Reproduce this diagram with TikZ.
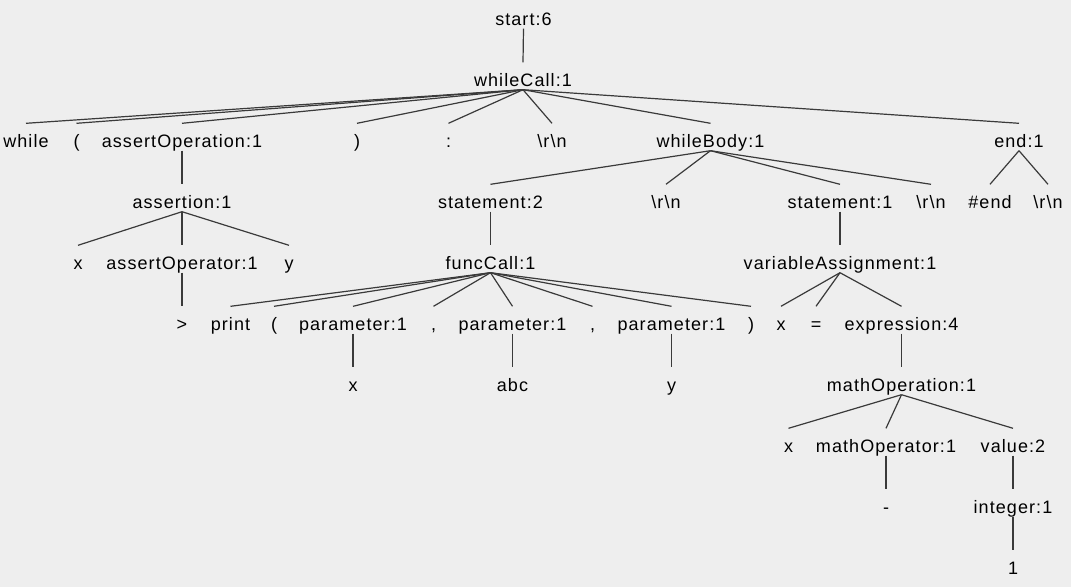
\documentclass[tikz,border=0pt]{standalone}
\usepackage{fontspec}
\setmainfont{Liberation Sans}[LetterSpace=6]
\definecolor{bg}{HTML}{EEEEEE}
\definecolor{ln}{HTML}{3A3A3A}
\newcommand{\rn}{\textbackslash r\textbackslash n}
\begin{document}
\begin{tikzpicture}[x=1pt,y=-1pt,
  tn/.style={anchor=base, inner sep=0pt, text height=23.5pt, text depth=3.5pt,
    font=\fontsize{18}{20}\selectfont, text=black},
  edge/.style={draw=ln, line width=1.2pt}]
\useasboundingbox[fill=bg] (0,0) rectangle (1071,587);
% rows: baseline = 25 + 61k
% row 0
\node[tn] (start) at (523.5,25) {start:6};
% row 1
\node[tn] (wc) at (523,86) {whileCall:1};
% row 2
\node[tn] (wwhile) at (26,147) {while};
\node[tn] (wlp) at (76.5,147) {(};
\node[tn] (aop) at (182,147) {assertOperation:1};
\node[tn] (wrp) at (357,147) {)};
\node[tn] (wcol) at (448.5,147) {:};
\node[tn] (wrn) at (552,147) {\rn};
\node[tn] (wb) at (710.5,147) {whileBody:1};
\node[tn] (endn) at (1019,147) {end:1};
% row 3
\node[tn] (asn) at (182,208) {assertion:1};
\node[tn] (st2) at (490.5,208) {statement:2};
\node[tn] (wbrna) at (666,208) {\rn};
\node[tn] (st1) at (840,208) {statement:1};
\node[tn] (wbrnb) at (931,208) {\rn};
\node[tn] (hend) at (990,208) {\#end};
\node[tn] (endrn) at (1048,208) {\rn};
% row 4
\node[tn] (ax) at (78,269) {x};
\node[tn] (aopr) at (182,269) {assertOperator:1};
\node[tn] (ay) at (289,269) {y};
\node[tn] (fc) at (490.5,269) {funcCall:1};
\node[tn] (va) at (840,269) {variableAssignment:1};
% row 5
\node[tn] (gt) at (182,330) {>};
\node[tn] (fprint) at (230.5,330) {print};
\node[tn] (flp) at (274,330) {(};
\node[tn] (pa) at (353,330) {parameter:1};
\node[tn] (ca) at (433.5,330) {,};
\node[tn] (pb) at (512.5,330) {parameter:1};
\node[tn] (cb) at (592.5,330) {,};
\node[tn] (pc) at (671.5,330) {parameter:1};
\node[tn] (frp) at (751,330) {)};
\node[tn] (vx) at (781,330) {x};
\node[tn] (veq) at (816,330) {=};
\node[tn] (expr) at (901.5,330) {expression:4};
% row 6
\node[tn] (pax) at (353,391) {x};
\node[tn] (pbabc) at (512.5,391) {abc};
\node[tn] (pcy) at (671.5,391) {y};
\node[tn] (mo) at (901.5,391) {mathOperation:1};
% row 7
\node[tn] (mx) at (788.5,452) {x};
\node[tn] (mop) at (886,452) {mathOperator:1};
\node[tn] (val) at (1013,452) {value:2};
% row 8
\node[tn] (minus) at (886,513) {-};
\node[tn] (int) at (1013,513) {integer:1};
% row 9
\node[tn] (one) at (1013,574) {1};
% edges
\draw[edge] (start.south) -- (wc.north);
\foreach \c in {wwhile,wlp,aop,wrp,wcol,wrn,wb,endn} \draw[edge] (wc.south) -- (\c.north);
\draw[edge] (aop.south) -- (asn.north);
\foreach \c in {ax,aopr,ay} \draw[edge] (asn.south) -- (\c.north);
\draw[edge] (aopr.south) -- (gt.north);
\foreach \c in {st2,wbrna,st1,wbrnb} \draw[edge] (wb.south) -- (\c.north);
\foreach \c in {hend,endrn} \draw[edge] (endn.south) -- (\c.north);
\draw[edge] (st2.south) -- (fc.north);
\foreach \c in {fprint,flp,pa,ca,pb,cb,pc,frp} \draw[edge] (fc.south) -- (\c.north);
\draw[edge] (pa.south) -- (pax.north);
\draw[edge] (pb.south) -- (pbabc.north);
\draw[edge] (pc.south) -- (pcy.north);
\draw[edge] (st1.south) -- (va.north);
\foreach \c in {vx,veq,expr} \draw[edge] (va.south) -- (\c.north);
\draw[edge] (expr.south) -- (mo.north);
\foreach \c in {mx,mop,val} \draw[edge] (mo.south) -- (\c.north);
\draw[edge] (mop.south) -- (minus.north);
\draw[edge] (val.south) -- (int.north);
\draw[edge] (int.south) -- (one.north);
\end{tikzpicture}
\end{document}
